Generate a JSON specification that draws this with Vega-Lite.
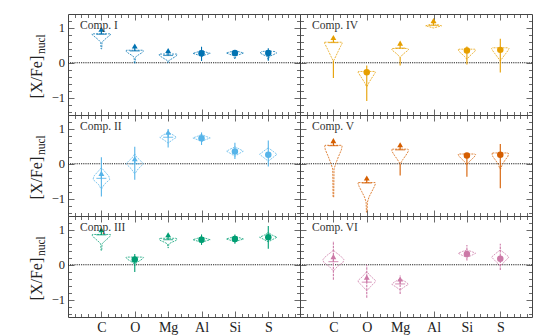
{
  "$schema": "https://vega.github.io/schema/vega-lite/v6.json",
  "background": "white",
  "padding": {"left": 28, "top": 13, "right": 5, "bottom": 5},
  "data": {"values": [
    {"k":"t","c":"I","t":"Comp. I"},{"k":"t","c":"II","t":"Comp. II"},{"k":"t","c":"III","t":"Comp. III"},
    {"k":"t","c":"IV","t":"Comp. IV"},{"k":"t","c":"V","t":"Comp. V"},{"k":"t","c":"VI","t":"Comp. VI"},

    {"k":"l","c":"I","e":"C","v":0.82},
    {"k":"l","c":"I","e":"O","v":0.34},
    {"k":"l","c":"I","e":"Mg","v":0.21},
    {"k":"d","c":"I","e":"Al","v":0.27,"lo":0.05,"hi":0.46},
    {"k":"d","c":"I","e":"Si","v":0.28,"lo":0.19,"hi":0.36},
    {"k":"d","c":"I","e":"S","v":0.28,"lo":0.06,"hi":0.42},

    {"k":"l","c":"II","e":"C","v":-0.42,"lo":-0.94,"hi":0.19},
    {"k":"l","c":"II","e":"O","v":0.0,"lo":-0.46,"hi":0.49},
    {"k":"l","c":"II","e":"Mg","v":0.76,"lo":0.47,"hi":1.0},
    {"k":"d","c":"II","e":"Al","v":0.73,"lo":0.54,"hi":0.9},
    {"k":"d","c":"II","e":"Si","v":0.35,"lo":0.14,"hi":0.6},
    {"k":"d","c":"II","e":"S","v":0.26,"lo":-0.08,"hi":0.67},

    {"k":"l","c":"III","e":"C","v":0.86},
    {"k":"d","c":"III","e":"O","v":0.15,"lo":-0.21,"hi":0.31},
    {"k":"l","c":"III","e":"Mg","v":0.72},
    {"k":"d","c":"III","e":"Al","v":0.72,"lo":0.57,"hi":0.87},
    {"k":"d","c":"III","e":"Si","v":0.74,"lo":0.6,"hi":0.87},
    {"k":"d","c":"III","e":"S","v":0.79,"lo":0.46,"hi":1.11},

    {"k":"l","c":"IV","e":"C","v":0.58,"lo":-0.44,"hi":0.06},
    {"k":"d","c":"IV","e":"O","v":-0.27,"lo":-1.1,"hi":-0.08},
    {"k":"l","c":"IV","e":"Mg","v":0.42,"lo":-0.08,"hi":0.16},
    {"k":"l","c":"IV","e":"Al","v":1.07},
    {"k":"d","c":"IV","e":"Si","v":0.35,"lo":-0.05,"hi":0.47},
    {"k":"d","c":"IV","e":"S","v":0.37,"lo":-0.28,"hi":0.69},

    {"k":"l","c":"V","e":"C","v":0.52},
    {"k":"l","c":"V","e":"O","v":-0.55},
    {"k":"l","c":"V","e":"Mg","v":0.4,"lo":-0.34,"hi":0.01},
    {"k":"d","c":"V","e":"Si","v":0.24,"lo":-0.37,"hi":0.26},
    {"k":"d","c":"V","e":"S","v":0.26,"lo":-0.7,"hi":0.57},

    {"k":"l","c":"VI","e":"C","v":0.09,"lo":-0.43,"hi":0.68},
    {"k":"l","c":"VI","e":"O","v":-0.5,"lo":-0.95,"hi":0.0},
    {"k":"l","c":"VI","e":"Mg","v":-0.55,"lo":-0.84,"hi":-0.31},
    {"k":"d","c":"VI","e":"Si","v":0.31,"lo":0.12,"hi":0.57},
    {"k":"d","c":"VI","e":"S","v":0.17,"lo":-0.15,"hi":0.6},

    {"k":"v","c":"I","e":"C","v":0.4,"w":0.01},{"k":"v","c":"I","e":"C","v":0.59,"w":0.02},{"k":"v","c":"I","e":"C","v":0.66,"w":0.09},{"k":"v","c":"I","e":"C","v":0.74,"w":0.19},{"k":"v","c":"I","e":"C","v":0.8,"w":0.27},{"k":"v","c":"I","e":"C","v":0.83,"w":0.28},
    {"k":"v","c":"I","e":"O","v":-0.02,"w":0.01},{"k":"v","c":"I","e":"O","v":0.16,"w":0.02},{"k":"v","c":"I","e":"O","v":0.22,"w":0.1},{"k":"v","c":"I","e":"O","v":0.28,"w":0.2},{"k":"v","c":"I","e":"O","v":0.33,"w":0.26},{"k":"v","c":"I","e":"O","v":0.36,"w":0.25},
    {"k":"v","c":"I","e":"Mg","v":0.0,"w":0.01},{"k":"v","c":"I","e":"Mg","v":0.06,"w":0.02},{"k":"v","c":"I","e":"Mg","v":0.12,"w":0.12},{"k":"v","c":"I","e":"Mg","v":0.18,"w":0.22},{"k":"v","c":"I","e":"Mg","v":0.22,"w":0.27},{"k":"v","c":"I","e":"Mg","v":0.25,"w":0.26},
    {"k":"v","c":"I","e":"Al","v":0.18,"w":0.01},{"k":"v","c":"I","e":"Al","v":0.23,"w":0.12},{"k":"v","c":"I","e":"Al","v":0.27,"w":0.26},{"k":"v","c":"I","e":"Al","v":0.31,"w":0.12},{"k":"v","c":"I","e":"Al","v":0.35,"w":0.01},
    {"k":"v","c":"I","e":"Si","v":0.11,"w":0.01},{"k":"v","c":"I","e":"Si","v":0.2,"w":0.03},{"k":"v","c":"I","e":"Si","v":0.24,"w":0.15},{"k":"v","c":"I","e":"Si","v":0.28,"w":0.26},{"k":"v","c":"I","e":"Si","v":0.31,"w":0.15},{"k":"v","c":"I","e":"Si","v":0.34,"w":0.01},
    {"k":"v","c":"I","e":"S","v":0.1,"w":0.01},{"k":"v","c":"I","e":"S","v":0.18,"w":0.03},{"k":"v","c":"I","e":"S","v":0.23,"w":0.15},{"k":"v","c":"I","e":"S","v":0.28,"w":0.25},{"k":"v","c":"I","e":"S","v":0.32,"w":0.2},{"k":"v","c":"I","e":"S","v":0.34,"w":0.02},

    {"k":"v","c":"II","e":"C","v":-0.72,"w":0.01},{"k":"v","c":"II","e":"C","v":-0.6,"w":0.08},{"k":"v","c":"II","e":"C","v":-0.45,"w":0.25},{"k":"v","c":"II","e":"C","v":-0.35,"w":0.22},{"k":"v","c":"II","e":"C","v":-0.2,"w":0.08},{"k":"v","c":"II","e":"C","v":-0.12,"w":0.01},
    {"k":"v","c":"II","e":"O","v":-0.28,"w":0.01},{"k":"v","c":"II","e":"O","v":-0.15,"w":0.1},{"k":"v","c":"II","e":"O","v":0.0,"w":0.26},{"k":"v","c":"II","e":"O","v":0.08,"w":0.18},{"k":"v","c":"II","e":"O","v":0.2,"w":0.05},{"k":"v","c":"II","e":"O","v":0.27,"w":0.01},
    {"k":"v","c":"II","e":"Mg","v":0.6,"w":0.01},{"k":"v","c":"II","e":"Mg","v":0.68,"w":0.12},{"k":"v","c":"II","e":"Mg","v":0.76,"w":0.25},{"k":"v","c":"II","e":"Mg","v":0.82,"w":0.16},{"k":"v","c":"II","e":"Mg","v":0.9,"w":0.01},
    {"k":"v","c":"II","e":"Al","v":0.64,"w":0.01},{"k":"v","c":"II","e":"Al","v":0.69,"w":0.12},{"k":"v","c":"II","e":"Al","v":0.74,"w":0.26},{"k":"v","c":"II","e":"Al","v":0.79,"w":0.12},{"k":"v","c":"II","e":"Al","v":0.84,"w":0.01},
    {"k":"v","c":"II","e":"Si","v":0.22,"w":0.01},{"k":"v","c":"II","e":"Si","v":0.3,"w":0.14},{"k":"v","c":"II","e":"Si","v":0.36,"w":0.25},{"k":"v","c":"II","e":"Si","v":0.42,"w":0.14},{"k":"v","c":"II","e":"Si","v":0.48,"w":0.01},
    {"k":"v","c":"II","e":"S","v":0.08,"w":0.01},{"k":"v","c":"II","e":"S","v":0.18,"w":0.14},{"k":"v","c":"II","e":"S","v":0.27,"w":0.26},{"k":"v","c":"II","e":"S","v":0.36,"w":0.14},{"k":"v","c":"II","e":"S","v":0.45,"w":0.01},

    {"k":"v","c":"III","e":"C","v":0.41,"w":0.01},{"k":"v","c":"III","e":"C","v":0.6,"w":0.02},{"k":"v","c":"III","e":"C","v":0.68,"w":0.1},{"k":"v","c":"III","e":"C","v":0.76,"w":0.2},{"k":"v","c":"III","e":"C","v":0.83,"w":0.27},{"k":"v","c":"III","e":"C","v":0.87,"w":0.27},
    {"k":"v","c":"III","e":"O","v":-0.02,"w":0.01},{"k":"v","c":"III","e":"O","v":0.04,"w":0.03},{"k":"v","c":"III","e":"O","v":0.1,"w":0.12},{"k":"v","c":"III","e":"O","v":0.16,"w":0.22},{"k":"v","c":"III","e":"O","v":0.2,"w":0.26},{"k":"v","c":"III","e":"O","v":0.22,"w":0.25},
    {"k":"v","c":"III","e":"Mg","v":0.49,"w":0.01},{"k":"v","c":"III","e":"Mg","v":0.6,"w":0.02},{"k":"v","c":"III","e":"Mg","v":0.65,"w":0.12},{"k":"v","c":"III","e":"Mg","v":0.7,"w":0.24},{"k":"v","c":"III","e":"Mg","v":0.74,"w":0.27},{"k":"v","c":"III","e":"Mg","v":0.76,"w":0.22},
    {"k":"v","c":"III","e":"Al","v":0.64,"w":0.01},{"k":"v","c":"III","e":"Al","v":0.68,"w":0.12},{"k":"v","c":"III","e":"Al","v":0.72,"w":0.26},{"k":"v","c":"III","e":"Al","v":0.76,"w":0.12},{"k":"v","c":"III","e":"Al","v":0.8,"w":0.01},
    {"k":"v","c":"III","e":"Si","v":0.66,"w":0.01},{"k":"v","c":"III","e":"Si","v":0.7,"w":0.12},{"k":"v","c":"III","e":"Si","v":0.74,"w":0.26},{"k":"v","c":"III","e":"Si","v":0.78,"w":0.12},{"k":"v","c":"III","e":"Si","v":0.82,"w":0.01},
    {"k":"v","c":"III","e":"S","v":0.66,"w":0.01},{"k":"v","c":"III","e":"S","v":0.72,"w":0.12},{"k":"v","c":"III","e":"S","v":0.79,"w":0.26},{"k":"v","c":"III","e":"S","v":0.85,"w":0.12},{"k":"v","c":"III","e":"S","v":0.92,"w":0.01},

    {"k":"v","c":"IV","e":"C","v":0.06,"w":0.01},{"k":"v","c":"IV","e":"C","v":0.18,"w":0.07},{"k":"v","c":"IV","e":"C","v":0.32,"w":0.14},{"k":"v","c":"IV","e":"C","v":0.46,"w":0.21},{"k":"v","c":"IV","e":"C","v":0.55,"w":0.26},{"k":"v","c":"IV","e":"C","v":0.59,"w":0.26},
    {"k":"v","c":"IV","e":"O","v":-0.68,"w":0.01},{"k":"v","c":"IV","e":"O","v":-0.56,"w":0.07},{"k":"v","c":"IV","e":"O","v":-0.44,"w":0.15},{"k":"v","c":"IV","e":"O","v":-0.32,"w":0.23},{"k":"v","c":"IV","e":"O","v":-0.27,"w":0.26},{"k":"v","c":"IV","e":"O","v":-0.25,"w":0.25},
    {"k":"v","c":"IV","e":"Mg","v":0.16,"w":0.01},{"k":"v","c":"IV","e":"Mg","v":0.24,"w":0.08},{"k":"v","c":"IV","e":"Mg","v":0.31,"w":0.17},{"k":"v","c":"IV","e":"Mg","v":0.36,"w":0.24},{"k":"v","c":"IV","e":"Mg","v":0.39,"w":0.25},{"k":"v","c":"IV","e":"Mg","v":0.41,"w":0.22},
    {"k":"v","c":"IV","e":"Al","v":1.0,"w":0.01},{"k":"v","c":"IV","e":"Al","v":1.03,"w":0.12},{"k":"v","c":"IV","e":"Al","v":1.06,"w":0.24},{"k":"v","c":"IV","e":"Al","v":1.09,"w":0.14},{"k":"v","c":"IV","e":"Al","v":1.12,"w":0.01},
    {"k":"v","c":"IV","e":"Si","v":0.11,"w":0.01},{"k":"v","c":"IV","e":"Si","v":0.18,"w":0.07},{"k":"v","c":"IV","e":"Si","v":0.26,"w":0.16},{"k":"v","c":"IV","e":"Si","v":0.33,"w":0.24},{"k":"v","c":"IV","e":"Si","v":0.37,"w":0.26},{"k":"v","c":"IV","e":"Si","v":0.39,"w":0.24},
    {"k":"v","c":"IV","e":"S","v":0.06,"w":0.01},{"k":"v","c":"IV","e":"S","v":0.16,"w":0.08},{"k":"v","c":"IV","e":"S","v":0.26,"w":0.16},{"k":"v","c":"IV","e":"S","v":0.35,"w":0.23},{"k":"v","c":"IV","e":"S","v":0.41,"w":0.26},{"k":"v","c":"IV","e":"S","v":0.43,"w":0.24},

    {"k":"v","c":"V","e":"C","v":-0.96,"w":0.01},{"k":"v","c":"V","e":"C","v":-0.15,"w":0.02},{"k":"v","c":"V","e":"C","v":0.0,"w":0.07},{"k":"v","c":"V","e":"C","v":0.2,"w":0.15},{"k":"v","c":"V","e":"C","v":0.4,"w":0.24},{"k":"v","c":"V","e":"C","v":0.5,"w":0.26},{"k":"v","c":"V","e":"C","v":0.53,"w":0.25},
    {"k":"v","c":"V","e":"O","v":-1.39,"w":0.01},{"k":"v","c":"V","e":"O","v":-1.1,"w":0.02},{"k":"v","c":"V","e":"O","v":-0.95,"w":0.07},{"k":"v","c":"V","e":"O","v":-0.8,"w":0.15},{"k":"v","c":"V","e":"O","v":-0.65,"w":0.23},{"k":"v","c":"V","e":"O","v":-0.57,"w":0.26},{"k":"v","c":"V","e":"O","v":-0.54,"w":0.25},
    {"k":"v","c":"V","e":"Mg","v":0.01,"w":0.01},{"k":"v","c":"V","e":"Mg","v":0.12,"w":0.08},{"k":"v","c":"V","e":"Mg","v":0.24,"w":0.17},{"k":"v","c":"V","e":"Mg","v":0.35,"w":0.24},{"k":"v","c":"V","e":"Mg","v":0.4,"w":0.25},{"k":"v","c":"V","e":"Mg","v":0.42,"w":0.23},
    {"k":"v","c":"V","e":"Si","v":-0.02,"w":0.01},{"k":"v","c":"V","e":"Si","v":0.06,"w":0.07},{"k":"v","c":"V","e":"Si","v":0.14,"w":0.16},{"k":"v","c":"V","e":"Si","v":0.22,"w":0.24},{"k":"v","c":"V","e":"Si","v":0.26,"w":0.26},{"k":"v","c":"V","e":"Si","v":0.28,"w":0.24},
    {"k":"v","c":"V","e":"S","v":-0.15,"w":0.01},{"k":"v","c":"V","e":"S","v":-0.02,"w":0.06},{"k":"v","c":"V","e":"S","v":0.1,"w":0.14},{"k":"v","c":"V","e":"S","v":0.2,"w":0.22},{"k":"v","c":"V","e":"S","v":0.28,"w":0.25},{"k":"v","c":"V","e":"S","v":0.31,"w":0.23},

    {"k":"v","c":"VI","e":"C","v":-0.17,"w":0.01},{"k":"v","c":"VI","e":"C","v":-0.05,"w":0.12},{"k":"v","c":"VI","e":"C","v":0.06,"w":0.28},{"k":"v","c":"VI","e":"C","v":0.14,"w":0.32},{"k":"v","c":"VI","e":"C","v":0.25,"w":0.22},{"k":"v","c":"VI","e":"C","v":0.35,"w":0.08},{"k":"v","c":"VI","e":"C","v":0.41,"w":0.01},
    {"k":"v","c":"VI","e":"O","v":-0.74,"w":0.01},{"k":"v","c":"VI","e":"O","v":-0.62,"w":0.12},{"k":"v","c":"VI","e":"O","v":-0.5,"w":0.25},{"k":"v","c":"VI","e":"O","v":-0.45,"w":0.26},{"k":"v","c":"VI","e":"O","v":-0.35,"w":0.14},{"k":"v","c":"VI","e":"O","v":-0.21,"w":0.01},
    {"k":"v","c":"VI","e":"Mg","v":-0.72,"w":0.01},{"k":"v","c":"VI","e":"Mg","v":-0.64,"w":0.12},{"k":"v","c":"VI","e":"Mg","v":-0.56,"w":0.25},{"k":"v","c":"VI","e":"Mg","v":-0.5,"w":0.18},{"k":"v","c":"VI","e":"Mg","v":-0.41,"w":0.01},
    {"k":"v","c":"VI","e":"Si","v":0.21,"w":0.01},{"k":"v","c":"VI","e":"Si","v":0.27,"w":0.14},{"k":"v","c":"VI","e":"Si","v":0.33,"w":0.26},{"k":"v","c":"VI","e":"Si","v":0.38,"w":0.14},{"k":"v","c":"VI","e":"Si","v":0.42,"w":0.01},
    {"k":"v","c":"VI","e":"S","v":-0.02,"w":0.01},{"k":"v","c":"VI","e":"S","v":0.1,"w":0.14},{"k":"v","c":"VI","e":"S","v":0.22,"w":0.26},{"k":"v","c":"VI","e":"S","v":0.32,"w":0.14},{"k":"v","c":"VI","e":"S","v":0.42,"w":0.01}
  ]},
  "transform": [
    {"calculate": "indexof(['C','O','Mg','Al','Si','S'], datum.e) + 1", "as": "i"},
    {"calculate": "datum.i - datum.w", "as": "x0"},
    {"calculate": "datum.i + datum.w", "as": "x1"}
  ],
  "columns": 2,
  "spacing": 0,
  "bounds": "flush",
  "concat": [
    {
      "width": 232, "height": 101,
      "transform": [{"filter": "datum.c == 'I'"}],
      "resolve": {"axis": {"x": "independent", "y": "independent"}},
      "layer": [
        {"transform": [{"filter": "datum.k == 't'"}],
         "mark": {"type": "rule", "color": "#222", "strokeDash": [1.2, 1], "strokeWidth": 1},
         "encoding": {"y": {"datum": 0, "type": "quantitative", "scale": {"domain": [-1.5, 1.4], "nice": false, "zero": false},
           "axis": {"orient": "left", "values": [-1, 0, 1], "tickSize": -6, "labelPadding": 9.5, "labelFontSize": 12.5, "title": "[X/Fe]", "titleFontSize": 16, "titleAngle": 270, "titleBaseline": "alphabetic", "titleAlign": "center", "titleX": -26.3, "titleY": 62.6}}}},
        {"transform": [{"filter": "datum.k == 'v'"}],
         "mark": {"type": "area", "orient": "horizontal", "filled": false, "fillOpacity": 0, "stroke": "#0072B2", "strokeWidth": 0.9, "strokeDash": [2, 1], "strokeOpacity": 0.85},
         "encoding": {"x": {"field": "x0", "type": "quantitative", "scale": {"domain": [0, 6.95], "nice": false, "zero": false}, "axis": {"orient": "bottom", "values": [1, 2, 3, 4, 5, 6], "tickSize": -6, "labels": false, "title": null}},
           "x2": {"field": "x1"}, "y": {"field": "v", "type": "quantitative", "axis": {"orient": "left", "values": [-1.4, -1.2, -0.8, -0.6, -0.4, -0.2, 0.2, 0.4, 0.6, 0.8, 1.2], "tickSize": -3.5, "labels": false, "title": "nucl", "titleFontSize": 11.5, "titleAngle": 270, "titleBaseline": "alphabetic", "titleAlign": "center", "titleX": -23.5, "titleY": 29.6}},
           "detail": {"field": "e"}}},
        {"transform": [{"filter": "isValid(datum.lo)"}],
         "mark": {"type": "rule", "color": "#0072B2", "strokeWidth": 1.1},
         "encoding": {"x": {"field": "i", "type": "quantitative", "axis": {"orient": "top", "values": [1, 2, 3, 4, 5, 6], "tickSize": -6, "labels": false, "title": null}},
           "y": {"field": "lo", "type": "quantitative", "axis": {"orient": "right", "values": [-1, 0, 1], "tickSize": -6, "labels": false, "title": null}}, "y2": {"field": "hi"}}},
        {"transform": [{"filter": "datum.k == 'l'"}],
         "mark": {"type": "tick", "orient": "horizontal", "color": "#0072B2", "size": 10, "thickness": 1.2},
         "encoding": {"x": {"field": "i", "type": "quantitative", "axis": {"orient": "bottom", "values": [0.2, 0.4, 0.6, 0.8, 1.2, 1.4, 1.6, 1.8, 2.2, 2.4, 2.6, 2.8, 3.2, 3.4, 3.6, 3.8, 4.2, 4.4, 4.6, 4.8, 5.2, 5.4, 5.6, 5.8, 6.2, 6.4, 6.6, 6.8], "tickSize": -3.5, "labels": false, "title": null}},
           "y": {"field": "v", "type": "quantitative", "axis": {"orient": "right", "values": [-1.4, -1.2, -0.8, -0.6, -0.4, -0.2, 0.2, 0.4, 0.6, 0.8, 1.2], "tickSize": -3.5, "labels": false, "title": null}}}},
        {"transform": [{"filter": "datum.k == 'l'"}],
         "mark": {"type": "rule", "color": "#0072B2", "strokeWidth": 1.2, "y2Offset": -5},
         "encoding": {"x": {"field": "i", "type": "quantitative", "axis": null}, "y": {"field": "v", "type": "quantitative", "axis": null}, "y2": {"field": "v"}}},
        {"transform": [{"filter": "datum.k == 'l'"}],
         "mark": {"type": "point", "shape": "triangle-up", "filled": true, "color": "#0072B2", "size": 34, "opacity": 1, "yOffset": -5},
         "encoding": {"x": {"field": "i", "type": "quantitative", "axis": {"orient": "top", "values": [0.2, 0.4, 0.6, 0.8, 1.2, 1.4, 1.6, 1.8, 2.2, 2.4, 2.6, 2.8, 3.2, 3.4, 3.6, 3.8, 4.2, 4.4, 4.6, 4.8, 5.2, 5.4, 5.6, 5.8, 6.2, 6.4, 6.6, 6.8], "tickSize": -3.5, "labels": false, "title": null}},
           "y": {"field": "v", "type": "quantitative", "axis": null}}},
        {"transform": [{"filter": "datum.k == 'd'"}],
         "mark": {"type": "point", "shape": "circle", "filled": true, "color": "#0072B2", "size": 42, "opacity": 1},
         "encoding": {"x": {"field": "i", "type": "quantitative", "axis": null}, "y": {"field": "v", "type": "quantitative", "axis": null}}},
        {"transform": [{"filter": "datum.k == 't'"}],
         "mark": {"type": "text", "align": "left", "baseline": "alphabetic", "fontSize": 11.5, "color": "#333", "font": "Liberation Serif"},
         "encoding": {"x": {"datum": 0.36, "type": "quantitative", "axis": null}, "y": {"datum": 0.98, "type": "quantitative", "axis": null}, "text": {"field": "t"}}}
      ]
    },
    {
      "width": 232, "height": 101,
      "transform": [{"filter": "datum.c == 'IV'"}],
      "resolve": {"axis": {"x": "independent", "y": "independent"}},
      "layer": [
        {"transform": [{"filter": "datum.k == 't'"}],
         "mark": {"type": "rule", "color": "#222", "strokeDash": [1.2, 1], "strokeWidth": 1},
         "encoding": {"y": {"datum": 0, "type": "quantitative", "scale": {"domain": [-1.5, 1.4], "nice": false, "zero": false},
           "axis": {"orient": "left", "values": [-1, 0, 1], "tickSize": -6, "labels": false, "title": null}}}},
        {"transform": [{"filter": "datum.k == 'v'"}],
         "mark": {"type": "area", "orient": "horizontal", "filled": false, "fillOpacity": 0, "stroke": "#E69F00", "strokeWidth": 0.9, "strokeDash": [2, 1], "strokeOpacity": 0.85},
         "encoding": {"x": {"field": "x0", "type": "quantitative", "scale": {"domain": [0, 6.95], "nice": false, "zero": false}, "axis": {"orient": "bottom", "values": [1, 2, 3, 4, 5, 6], "tickSize": -6, "labels": false, "title": null}},
           "x2": {"field": "x1"}, "y": {"field": "v", "type": "quantitative", "axis": {"orient": "left", "values": [-1.4, -1.2, -0.8, -0.6, -0.4, -0.2, 0.2, 0.4, 0.6, 0.8, 1.2], "tickSize": -3.5, "labels": false, "title": null}},
           "detail": {"field": "e"}}},
        {"transform": [{"filter": "isValid(datum.lo)"}],
         "mark": {"type": "rule", "color": "#E69F00", "strokeWidth": 1.1},
         "encoding": {"x": {"field": "i", "type": "quantitative", "axis": {"orient": "top", "values": [1, 2, 3, 4, 5, 6], "tickSize": -6, "labels": false, "title": null}},
           "y": {"field": "lo", "type": "quantitative", "axis": {"orient": "right", "values": [-1, 0, 1], "tickSize": -6, "labels": false, "title": null}}, "y2": {"field": "hi"}}},
        {"transform": [{"filter": "datum.k == 'l'"}],
         "mark": {"type": "tick", "orient": "horizontal", "color": "#E69F00", "size": 10, "thickness": 1.2},
         "encoding": {"x": {"field": "i", "type": "quantitative", "axis": {"orient": "bottom", "values": [0.2, 0.4, 0.6, 0.8, 1.2, 1.4, 1.6, 1.8, 2.2, 2.4, 2.6, 2.8, 3.2, 3.4, 3.6, 3.8, 4.2, 4.4, 4.6, 4.8, 5.2, 5.4, 5.6, 5.8, 6.2, 6.4, 6.6, 6.8], "tickSize": -3.5, "labels": false, "title": null}},
           "y": {"field": "v", "type": "quantitative", "axis": {"orient": "right", "values": [-1.4, -1.2, -0.8, -0.6, -0.4, -0.2, 0.2, 0.4, 0.6, 0.8, 1.2], "tickSize": -3.5, "labels": false, "title": null}}}},
        {"transform": [{"filter": "datum.k == 'l'"}],
         "mark": {"type": "rule", "color": "#E69F00", "strokeWidth": 1.2, "y2Offset": -5},
         "encoding": {"x": {"field": "i", "type": "quantitative", "axis": null}, "y": {"field": "v", "type": "quantitative", "axis": null}, "y2": {"field": "v"}}},
        {"transform": [{"filter": "datum.k == 'l'"}],
         "mark": {"type": "point", "shape": "triangle-up", "filled": true, "color": "#E69F00", "size": 34, "opacity": 1, "yOffset": -5},
         "encoding": {"x": {"field": "i", "type": "quantitative", "axis": {"orient": "top", "values": [0.2, 0.4, 0.6, 0.8, 1.2, 1.4, 1.6, 1.8, 2.2, 2.4, 2.6, 2.8, 3.2, 3.4, 3.6, 3.8, 4.2, 4.4, 4.6, 4.8, 5.2, 5.4, 5.6, 5.8, 6.2, 6.4, 6.6, 6.8], "tickSize": -3.5, "labels": false, "title": null}},
           "y": {"field": "v", "type": "quantitative", "axis": null}}},
        {"transform": [{"filter": "datum.k == 'd'"}],
         "mark": {"type": "point", "shape": "circle", "filled": true, "color": "#E69F00", "size": 42, "opacity": 1},
         "encoding": {"x": {"field": "i", "type": "quantitative", "axis": null}, "y": {"field": "v", "type": "quantitative", "axis": null}}},
        {"transform": [{"filter": "datum.k == 't'"}],
         "mark": {"type": "text", "align": "left", "baseline": "alphabetic", "fontSize": 11.5, "color": "#333", "font": "Liberation Serif"},
         "encoding": {"x": {"datum": 0.36, "type": "quantitative", "axis": null}, "y": {"datum": 0.98, "type": "quantitative", "axis": null}, "text": {"field": "t"}}}
      ]
    },
    {
      "width": 232, "height": 101,
      "transform": [{"filter": "datum.c == 'II'"}],
      "resolve": {"axis": {"x": "independent", "y": "independent"}},
      "layer": [
        {"transform": [{"filter": "datum.k == 't'"}],
         "mark": {"type": "rule", "color": "#222", "strokeDash": [1.2, 1], "strokeWidth": 1},
         "encoding": {"y": {"datum": 0, "type": "quantitative", "scale": {"domain": [-1.5, 1.4], "nice": false, "zero": false},
           "axis": {"orient": "left", "values": [-1, 0, 1], "tickSize": -6, "labelPadding": 9.5, "labelFontSize": 12.5, "title": "[X/Fe]", "titleFontSize": 16, "titleAngle": 270, "titleBaseline": "alphabetic", "titleAlign": "center", "titleX": -26.3, "titleY": 62.6}}}},
        {"transform": [{"filter": "datum.k == 'v'"}],
         "mark": {"type": "area", "orient": "horizontal", "filled": false, "fillOpacity": 0, "stroke": "#56B4E9", "strokeWidth": 0.9, "strokeDash": [2, 1], "strokeOpacity": 0.85},
         "encoding": {"x": {"field": "x0", "type": "quantitative", "scale": {"domain": [0, 6.95], "nice": false, "zero": false}, "axis": {"orient": "bottom", "values": [1, 2, 3, 4, 5, 6], "tickSize": -6, "labels": false, "title": null}},
           "x2": {"field": "x1"}, "y": {"field": "v", "type": "quantitative", "axis": {"orient": "left", "values": [-1.4, -1.2, -0.8, -0.6, -0.4, -0.2, 0.2, 0.4, 0.6, 0.8, 1.2], "tickSize": -3.5, "labels": false, "title": "nucl", "titleFontSize": 11.5, "titleAngle": 270, "titleBaseline": "alphabetic", "titleAlign": "center", "titleX": -23.5, "titleY": 29.6}},
           "detail": {"field": "e"}}},
        {"transform": [{"filter": "isValid(datum.lo)"}],
         "mark": {"type": "rule", "color": "#56B4E9", "strokeWidth": 1.1},
         "encoding": {"x": {"field": "i", "type": "quantitative", "axis": {"orient": "top", "values": [1, 2, 3, 4, 5, 6], "tickSize": -6, "labels": false, "title": null}},
           "y": {"field": "lo", "type": "quantitative", "axis": {"orient": "right", "values": [-1, 0, 1], "tickSize": -6, "labels": false, "title": null}}, "y2": {"field": "hi"}}},
        {"transform": [{"filter": "datum.k == 'l'"}],
         "mark": {"type": "tick", "orient": "horizontal", "color": "#56B4E9", "size": 10, "thickness": 1.2},
         "encoding": {"x": {"field": "i", "type": "quantitative", "axis": {"orient": "bottom", "values": [0.2, 0.4, 0.6, 0.8, 1.2, 1.4, 1.6, 1.8, 2.2, 2.4, 2.6, 2.8, 3.2, 3.4, 3.6, 3.8, 4.2, 4.4, 4.6, 4.8, 5.2, 5.4, 5.6, 5.8, 6.2, 6.4, 6.6, 6.8], "tickSize": -3.5, "labels": false, "title": null}},
           "y": {"field": "v", "type": "quantitative", "axis": {"orient": "right", "values": [-1.4, -1.2, -0.8, -0.6, -0.4, -0.2, 0.2, 0.4, 0.6, 0.8, 1.2], "tickSize": -3.5, "labels": false, "title": null}}}},
        {"transform": [{"filter": "datum.k == 'l'"}],
         "mark": {"type": "rule", "color": "#56B4E9", "strokeWidth": 1.2, "y2Offset": -5},
         "encoding": {"x": {"field": "i", "type": "quantitative", "axis": null}, "y": {"field": "v", "type": "quantitative", "axis": null}, "y2": {"field": "v"}}},
        {"transform": [{"filter": "datum.k == 'l'"}],
         "mark": {"type": "point", "shape": "triangle-up", "filled": true, "color": "#56B4E9", "size": 34, "opacity": 1, "yOffset": -5},
         "encoding": {"x": {"field": "i", "type": "quantitative", "axis": {"orient": "top", "values": [0.2, 0.4, 0.6, 0.8, 1.2, 1.4, 1.6, 1.8, 2.2, 2.4, 2.6, 2.8, 3.2, 3.4, 3.6, 3.8, 4.2, 4.4, 4.6, 4.8, 5.2, 5.4, 5.6, 5.8, 6.2, 6.4, 6.6, 6.8], "tickSize": -3.5, "labels": false, "title": null}},
           "y": {"field": "v", "type": "quantitative", "axis": null}}},
        {"transform": [{"filter": "datum.k == 'd'"}],
         "mark": {"type": "point", "shape": "circle", "filled": true, "color": "#56B4E9", "size": 42, "opacity": 1},
         "encoding": {"x": {"field": "i", "type": "quantitative", "axis": null}, "y": {"field": "v", "type": "quantitative", "axis": null}}},
        {"transform": [{"filter": "datum.k == 't'"}],
         "mark": {"type": "text", "align": "left", "baseline": "alphabetic", "fontSize": 11.5, "color": "#333", "font": "Liberation Serif"},
         "encoding": {"x": {"datum": 0.36, "type": "quantitative", "axis": null}, "y": {"datum": 0.98, "type": "quantitative", "axis": null}, "text": {"field": "t"}}}
      ]
    },
    {
      "width": 232, "height": 101,
      "transform": [{"filter": "datum.c == 'V'"}],
      "resolve": {"axis": {"x": "independent", "y": "independent"}},
      "layer": [
        {"transform": [{"filter": "datum.k == 't'"}],
         "mark": {"type": "rule", "color": "#222", "strokeDash": [1.2, 1], "strokeWidth": 1},
         "encoding": {"y": {"datum": 0, "type": "quantitative", "scale": {"domain": [-1.5, 1.4], "nice": false, "zero": false},
           "axis": {"orient": "left", "values": [-1, 0, 1], "tickSize": -6, "labels": false, "title": null}}}},
        {"transform": [{"filter": "datum.k == 'v'"}],
         "mark": {"type": "area", "orient": "horizontal", "filled": false, "fillOpacity": 0, "stroke": "#D55E00", "strokeWidth": 0.9, "strokeDash": [2, 1], "strokeOpacity": 0.85},
         "encoding": {"x": {"field": "x0", "type": "quantitative", "scale": {"domain": [0, 6.95], "nice": false, "zero": false}, "axis": {"orient": "bottom", "values": [1, 2, 3, 4, 5, 6], "tickSize": -6, "labels": false, "title": null}},
           "x2": {"field": "x1"}, "y": {"field": "v", "type": "quantitative", "axis": {"orient": "left", "values": [-1.4, -1.2, -0.8, -0.6, -0.4, -0.2, 0.2, 0.4, 0.6, 0.8, 1.2], "tickSize": -3.5, "labels": false, "title": null}},
           "detail": {"field": "e"}}},
        {"transform": [{"filter": "isValid(datum.lo)"}],
         "mark": {"type": "rule", "color": "#D55E00", "strokeWidth": 1.1},
         "encoding": {"x": {"field": "i", "type": "quantitative", "axis": {"orient": "top", "values": [1, 2, 3, 4, 5, 6], "tickSize": -6, "labels": false, "title": null}},
           "y": {"field": "lo", "type": "quantitative", "axis": {"orient": "right", "values": [-1, 0, 1], "tickSize": -6, "labels": false, "title": null}}, "y2": {"field": "hi"}}},
        {"transform": [{"filter": "datum.k == 'l'"}],
         "mark": {"type": "tick", "orient": "horizontal", "color": "#D55E00", "size": 10, "thickness": 1.2},
         "encoding": {"x": {"field": "i", "type": "quantitative", "axis": {"orient": "bottom", "values": [0.2, 0.4, 0.6, 0.8, 1.2, 1.4, 1.6, 1.8, 2.2, 2.4, 2.6, 2.8, 3.2, 3.4, 3.6, 3.8, 4.2, 4.4, 4.6, 4.8, 5.2, 5.4, 5.6, 5.8, 6.2, 6.4, 6.6, 6.8], "tickSize": -3.5, "labels": false, "title": null}},
           "y": {"field": "v", "type": "quantitative", "axis": {"orient": "right", "values": [-1.4, -1.2, -0.8, -0.6, -0.4, -0.2, 0.2, 0.4, 0.6, 0.8, 1.2], "tickSize": -3.5, "labels": false, "title": null}}}},
        {"transform": [{"filter": "datum.k == 'l'"}],
         "mark": {"type": "rule", "color": "#D55E00", "strokeWidth": 1.2, "y2Offset": -5},
         "encoding": {"x": {"field": "i", "type": "quantitative", "axis": null}, "y": {"field": "v", "type": "quantitative", "axis": null}, "y2": {"field": "v"}}},
        {"transform": [{"filter": "datum.k == 'l'"}],
         "mark": {"type": "point", "shape": "triangle-up", "filled": true, "color": "#D55E00", "size": 34, "opacity": 1, "yOffset": -5},
         "encoding": {"x": {"field": "i", "type": "quantitative", "axis": {"orient": "top", "values": [0.2, 0.4, 0.6, 0.8, 1.2, 1.4, 1.6, 1.8, 2.2, 2.4, 2.6, 2.8, 3.2, 3.4, 3.6, 3.8, 4.2, 4.4, 4.6, 4.8, 5.2, 5.4, 5.6, 5.8, 6.2, 6.4, 6.6, 6.8], "tickSize": -3.5, "labels": false, "title": null}},
           "y": {"field": "v", "type": "quantitative", "axis": null}}},
        {"transform": [{"filter": "datum.k == 'd'"}],
         "mark": {"type": "point", "shape": "circle", "filled": true, "color": "#D55E00", "size": 42, "opacity": 1},
         "encoding": {"x": {"field": "i", "type": "quantitative", "axis": null}, "y": {"field": "v", "type": "quantitative", "axis": null}}},
        {"transform": [{"filter": "datum.k == 't'"}],
         "mark": {"type": "text", "align": "left", "baseline": "alphabetic", "fontSize": 11.5, "color": "#333", "font": "Liberation Serif"},
         "encoding": {"x": {"datum": 0.36, "type": "quantitative", "axis": null}, "y": {"datum": 0.98, "type": "quantitative", "axis": null}, "text": {"field": "t"}}}
      ]
    },
    {
      "width": 232, "height": 101,
      "transform": [{"filter": "datum.c == 'III'"}],
      "resolve": {"axis": {"x": "independent", "y": "independent"}},
      "layer": [
        {"transform": [{"filter": "datum.k == 't'"}],
         "mark": {"type": "rule", "color": "#222", "strokeDash": [1.2, 1], "strokeWidth": 1},
         "encoding": {"y": {"datum": 0, "type": "quantitative", "scale": {"domain": [-1.5, 1.4], "nice": false, "zero": false},
           "axis": {"orient": "left", "values": [-1, 0, 1], "tickSize": -6, "labelPadding": 9.5, "labelFontSize": 12.5, "title": "[X/Fe]", "titleFontSize": 16, "titleAngle": 270, "titleBaseline": "alphabetic", "titleAlign": "center", "titleX": -26.3, "titleY": 62.6}}}},
        {"transform": [{"filter": "datum.k == 'v'"}],
         "mark": {"type": "area", "orient": "horizontal", "filled": false, "fillOpacity": 0, "stroke": "#009E73", "strokeWidth": 0.9, "strokeDash": [2, 1], "strokeOpacity": 0.85},
         "encoding": {"x": {"field": "x0", "type": "quantitative", "scale": {"domain": [0, 6.95], "nice": false, "zero": false}, "axis": {"orient": "bottom", "values": [1, 2, 3, 4, 5, 6], "tickSize": -6, "labelPadding": 9.5, "labelFontSize": 14, "labelExpr": "['C','O','Mg','Al','Si','S'][datum.value - 1]", "title": null}},
           "x2": {"field": "x1"}, "y": {"field": "v", "type": "quantitative", "axis": {"orient": "left", "values": [-1.4, -1.2, -0.8, -0.6, -0.4, -0.2, 0.2, 0.4, 0.6, 0.8, 1.2], "tickSize": -3.5, "labels": false, "title": "nucl", "titleFontSize": 11.5, "titleAngle": 270, "titleBaseline": "alphabetic", "titleAlign": "center", "titleX": -23.5, "titleY": 29.6}},
           "detail": {"field": "e"}}},
        {"transform": [{"filter": "isValid(datum.lo)"}],
         "mark": {"type": "rule", "color": "#009E73", "strokeWidth": 1.1},
         "encoding": {"x": {"field": "i", "type": "quantitative", "axis": {"orient": "top", "values": [1, 2, 3, 4, 5, 6], "tickSize": -6, "labels": false, "title": null}},
           "y": {"field": "lo", "type": "quantitative", "axis": {"orient": "right", "values": [-1, 0, 1], "tickSize": -6, "labels": false, "title": null}}, "y2": {"field": "hi"}}},
        {"transform": [{"filter": "datum.k == 'l'"}],
         "mark": {"type": "tick", "orient": "horizontal", "color": "#009E73", "size": 10, "thickness": 1.2},
         "encoding": {"x": {"field": "i", "type": "quantitative", "axis": {"orient": "bottom", "values": [0.2, 0.4, 0.6, 0.8, 1.2, 1.4, 1.6, 1.8, 2.2, 2.4, 2.6, 2.8, 3.2, 3.4, 3.6, 3.8, 4.2, 4.4, 4.6, 4.8, 5.2, 5.4, 5.6, 5.8, 6.2, 6.4, 6.6, 6.8], "tickSize": -3.5, "labels": false, "title": null}},
           "y": {"field": "v", "type": "quantitative", "axis": {"orient": "right", "values": [-1.4, -1.2, -0.8, -0.6, -0.4, -0.2, 0.2, 0.4, 0.6, 0.8, 1.2], "tickSize": -3.5, "labels": false, "title": null}}}},
        {"transform": [{"filter": "datum.k == 'l'"}],
         "mark": {"type": "rule", "color": "#009E73", "strokeWidth": 1.2, "y2Offset": -5},
         "encoding": {"x": {"field": "i", "type": "quantitative", "axis": null}, "y": {"field": "v", "type": "quantitative", "axis": null}, "y2": {"field": "v"}}},
        {"transform": [{"filter": "datum.k == 'l'"}],
         "mark": {"type": "point", "shape": "triangle-up", "filled": true, "color": "#009E73", "size": 34, "opacity": 1, "yOffset": -5},
         "encoding": {"x": {"field": "i", "type": "quantitative", "axis": {"orient": "top", "values": [0.2, 0.4, 0.6, 0.8, 1.2, 1.4, 1.6, 1.8, 2.2, 2.4, 2.6, 2.8, 3.2, 3.4, 3.6, 3.8, 4.2, 4.4, 4.6, 4.8, 5.2, 5.4, 5.6, 5.8, 6.2, 6.4, 6.6, 6.8], "tickSize": -3.5, "labels": false, "title": null}},
           "y": {"field": "v", "type": "quantitative", "axis": null}}},
        {"transform": [{"filter": "datum.k == 'd'"}],
         "mark": {"type": "point", "shape": "circle", "filled": true, "color": "#009E73", "size": 42, "opacity": 1},
         "encoding": {"x": {"field": "i", "type": "quantitative", "axis": null}, "y": {"field": "v", "type": "quantitative", "axis": null}}},
        {"transform": [{"filter": "datum.k == 't'"}],
         "mark": {"type": "text", "align": "left", "baseline": "alphabetic", "fontSize": 11.5, "color": "#333", "font": "Liberation Serif"},
         "encoding": {"x": {"datum": 0.36, "type": "quantitative", "axis": null}, "y": {"datum": 0.98, "type": "quantitative", "axis": null}, "text": {"field": "t"}}}
      ]
    },
    {
      "width": 232, "height": 101,
      "transform": [{"filter": "datum.c == 'VI'"}],
      "resolve": {"axis": {"x": "independent", "y": "independent"}},
      "layer": [
        {"transform": [{"filter": "datum.k == 't'"}],
         "mark": {"type": "rule", "color": "#222", "strokeDash": [1.2, 1], "strokeWidth": 1},
         "encoding": {"y": {"datum": 0, "type": "quantitative", "scale": {"domain": [-1.5, 1.4], "nice": false, "zero": false},
           "axis": {"orient": "left", "values": [-1, 0, 1], "tickSize": -6, "labels": false, "title": null}}}},
        {"transform": [{"filter": "datum.k == 'v'"}],
         "mark": {"type": "area", "orient": "horizontal", "filled": false, "fillOpacity": 0, "stroke": "#CC79A7", "strokeWidth": 0.9, "strokeDash": [2, 1], "strokeOpacity": 0.85},
         "encoding": {"x": {"field": "x0", "type": "quantitative", "scale": {"domain": [0, 6.95], "nice": false, "zero": false}, "axis": {"orient": "bottom", "values": [1, 2, 3, 4, 5, 6], "tickSize": -6, "labelPadding": 9.5, "labelFontSize": 14, "labelExpr": "['C','O','Mg','Al','Si','S'][datum.value - 1]", "title": null}},
           "x2": {"field": "x1"}, "y": {"field": "v", "type": "quantitative", "axis": {"orient": "left", "values": [-1.4, -1.2, -0.8, -0.6, -0.4, -0.2, 0.2, 0.4, 0.6, 0.8, 1.2], "tickSize": -3.5, "labels": false, "title": null}},
           "detail": {"field": "e"}}},
        {"transform": [{"filter": "isValid(datum.lo)"}],
         "mark": {"type": "rule", "color": "#CC79A7", "strokeWidth": 1.1, "strokeDash": [2.5, 1]},
         "encoding": {"x": {"field": "i", "type": "quantitative", "axis": {"orient": "top", "values": [1, 2, 3, 4, 5, 6], "tickSize": -6, "labels": false, "title": null}},
           "y": {"field": "lo", "type": "quantitative", "axis": {"orient": "right", "values": [-1, 0, 1], "tickSize": -6, "labels": false, "title": null}}, "y2": {"field": "hi"}}},
        {"transform": [{"filter": "datum.k == 'l'"}],
         "mark": {"type": "tick", "orient": "horizontal", "color": "#CC79A7", "size": 10, "thickness": 1.2},
         "encoding": {"x": {"field": "i", "type": "quantitative", "axis": {"orient": "bottom", "values": [0.2, 0.4, 0.6, 0.8, 1.2, 1.4, 1.6, 1.8, 2.2, 2.4, 2.6, 2.8, 3.2, 3.4, 3.6, 3.8, 4.2, 4.4, 4.6, 4.8, 5.2, 5.4, 5.6, 5.8, 6.2, 6.4, 6.6, 6.8], "tickSize": -3.5, "labels": false, "title": null}},
           "y": {"field": "v", "type": "quantitative", "axis": {"orient": "right", "values": [-1.4, -1.2, -0.8, -0.6, -0.4, -0.2, 0.2, 0.4, 0.6, 0.8, 1.2], "tickSize": -3.5, "labels": false, "title": null}}}},
        {"transform": [{"filter": "datum.k == 'l'"}],
         "mark": {"type": "rule", "color": "#CC79A7", "strokeWidth": 1.2, "y2Offset": -5},
         "encoding": {"x": {"field": "i", "type": "quantitative", "axis": null}, "y": {"field": "v", "type": "quantitative", "axis": null}, "y2": {"field": "v"}}},
        {"transform": [{"filter": "datum.k == 'l'"}],
         "mark": {"type": "point", "shape": "triangle-up", "filled": true, "color": "#CC79A7", "size": 34, "opacity": 1, "yOffset": -5},
         "encoding": {"x": {"field": "i", "type": "quantitative", "axis": {"orient": "top", "values": [0.2, 0.4, 0.6, 0.8, 1.2, 1.4, 1.6, 1.8, 2.2, 2.4, 2.6, 2.8, 3.2, 3.4, 3.6, 3.8, 4.2, 4.4, 4.6, 4.8, 5.2, 5.4, 5.6, 5.8, 6.2, 6.4, 6.6, 6.8], "tickSize": -3.5, "labels": false, "title": null}},
           "y": {"field": "v", "type": "quantitative", "axis": null}}},
        {"transform": [{"filter": "datum.k == 'd'"}],
         "mark": {"type": "point", "shape": "circle", "filled": true, "color": "#CC79A7", "size": 42, "opacity": 1},
         "encoding": {"x": {"field": "i", "type": "quantitative", "axis": null}, "y": {"field": "v", "type": "quantitative", "axis": null}}},
        {"transform": [{"filter": "datum.k == 't'"}],
         "mark": {"type": "text", "align": "left", "baseline": "alphabetic", "fontSize": 11.5, "color": "#333", "font": "Liberation Serif"},
         "encoding": {"x": {"datum": 0.36, "type": "quantitative", "axis": null}, "y": {"datum": 0.98, "type": "quantitative", "axis": null}, "text": {"field": "t"}}}
      ]
    }
  ],
  "config": {
    "font": "Liberation Serif",
    "view": {"stroke": "#444", "strokeWidth": 1},
    "axis": {"domain": false, "grid": false, "tickColor": "#444", "tickWidth": 0.8, "labelFont": "Liberation Serif", "titleFont": "Liberation Serif", "labelColor": "#222", "titleColor": "#222", "titleFontWeight": "normal", "labelFlush": false, "labelOverlap": false}
  }
}
